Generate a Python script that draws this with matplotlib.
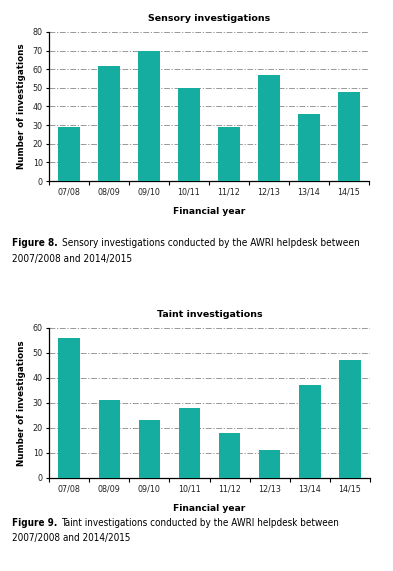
import matplotlib
matplotlib.use("Agg")
import matplotlib.pyplot as plt
import numpy as np

years = ["07/08", "08/09", "09/10", "10/11", "11/12", "12/13", "13/14", "14/15"]
sensory = [29, 62, 70, 50, 29, 57, 36, 48]
taint = [56, 31, 23, 28, 18, 11, 37, 47]

color = "#14ad9f"
W, H = 393, 571
fig = plt.figure(figsize=(W / 100, H / 100), dpi=100)

def draw(ax, vals, title, ymax, step):
    x = np.arange(len(vals))
    ax.bar(x, vals, width=0.53, color=color, zorder=3)
    ax.set_xlim(-0.5, len(vals) - 0.5)
    ax.set_ylim(0, ymax)
    ax.set_yticks(np.arange(0, ymax + 1, step))
    ax.set_xticks(x)
    ax.set_xticklabels(years, fontsize=5.8, color="#222")
    ax.set_xticks(np.arange(-0.5, len(vals)), minor=True)
    ax.tick_params(axis="x", which="major", length=0, pad=5)
    ax.tick_params(axis="x", which="minor", length=3, width=0.8, direction="out")
    ax.tick_params(axis="y", length=2.5, width=0.8, labelsize=5.8, pad=2, labelcolor="#222")
    ax.grid(axis="y", color="#888", linestyle=(0, (7, 2, 1.5, 2)), linewidth=0.6, zorder=0)
    for s in ["top", "right"]:
        ax.spines[s].set_visible(False)
    for s in ["left", "bottom"]:
        ax.spines[s].set_linewidth(0.9)
    ax.set_title(title, fontsize=6.8, fontweight="bold", pad=8)
    ax.set_ylabel("Number of investigations", fontsize=6.3, fontweight="bold", labelpad=5)
    ax.set_xlabel("Financial year", fontsize=6.6, fontweight="bold", labelpad=7)

ax1 = fig.add_axes([0.1247, 0.683, 0.814, 0.261])
draw(ax1, sensory, "Sensory investigations", 80, 10)
ax2 = fig.add_axes([0.1247, 0.163, 0.817, 0.2627])
draw(ax2, taint, "Taint investigations", 60, 10)

renderer = fig.canvas.get_renderer()

def caption(label, rest, line2, y1, y2, target_right=358):
    fs = 7.3
    for _ in range(4):
        t1 = fig.text(12 / W, 1 - y1 / H, label, fontsize=fs, fontweight="bold",
                      va="center", ha="left", fontstretch="condensed")
        e1 = t1.get_window_extent(renderer)
        t2 = fig.text((e1.x1 + 4) / W, 1 - y1 / H, rest, fontsize=fs,
                      va="center", ha="left", fontstretch="condensed")
        e2 = t2.get_window_extent(renderer)
        width = e2.x1 - 12
        if abs(width - (target_right - 12)) < 2:
            break
        t1.remove(); t2.remove()
        fs *= (target_right - 12) / width
    fig.text(12 / W, 1 - y2 / H, line2, fontsize=fs, va="center", ha="left",
             fontstretch="condensed")

caption("Figure 8.", "Sensory investigations conducted by the AWRI helpdesk between",
        "2007/2008 and 2014/2015", 243, 259, 358)
caption("Figure 9.", "Taint investigations conducted by the AWRI helpdesk between",
        "2007/2008 and 2014/2015", 523, 538, 341)

fig.savefig("out.png", dpi=100)
